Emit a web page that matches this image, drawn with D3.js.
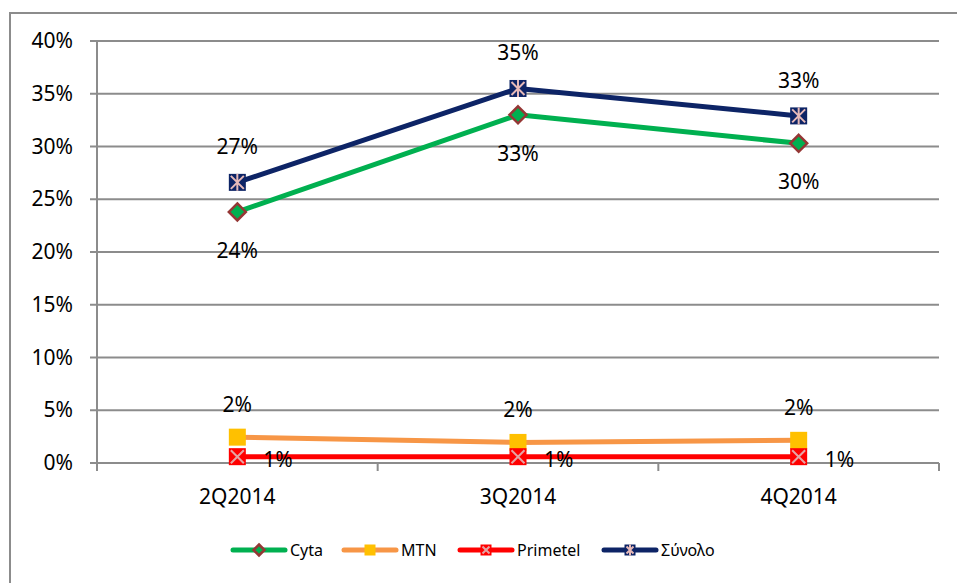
<!DOCTYPE html>
<html>
<head>
<meta charset="utf-8">
<script src="https://cdn.jsdelivr.net/npm/d3@7"></script>
<style>
  body { margin: 0; background: #fff; }
  svg { font-family: "Noto Sans", "Open Sans", sans-serif; }
</style>
</head>
<body>
<svg id="chart"></svg>
<script>
// data
const quarters = ["2Q2014", "3Q2014", "4Q2014"];
const cyta = [23.8, 33.0, 30.3];
const mtn = [2.45, 1.95, 2.15];
const primetel = [0.6, 0.6, 0.6];
const synolo = [26.6, 35.5, 32.9];
const cytaLabels = ["24%", "33%", "30%"];
const mtnLabels = ["2%", "2%", "2%"];
const primetelLabels = ["1%", "1%", "1%"];
const synoloLabels = ["27%", "35%", "33%"];
const yTicks = [0, 5, 10, 15, 20, 25, 30, 35, 40];

let width = 957;
let height = 583;
let plot = { left: 97, right: 939, top: 41, bottom: 463 };

let svg = d3.select('#chart')
    .attr('width', width)
    .attr('height', height);

// outer chart border
svg.append('path')
    .attr('d', `M10,${height} V13 H${width}`)
    .attr('fill', 'none')
    .attr('stroke', '#8c8c8c')
    .attr('stroke-width', 2);

let xScale = d3.scaleBand()
    .domain(quarters)
    .range([plot.left, plot.right]);
let yScale = d3.scaleLinear()
    .domain([0, 40])
    .range([plot.bottom, plot.top]);

let xPos = (i) => xScale(quarters[i]) + xScale.bandwidth() / 2;

// grid
svg.append('g')
    .selectAll('line')
    .data(yTicks)
    .join('line')
    .attr('x1', plot.left - 7)
    .attr('x2', plot.right)
    .attr('y1', d => yScale(d))
    .attr('y2', d => yScale(d))
    .attr('stroke', '#8c8c8c')
    .attr('stroke-width', 2);

// y axis line
svg.append('line')
    .attr('x1', plot.left).attr('x2', plot.left)
    .attr('y1', plot.top).attr('y2', plot.bottom)
    .attr('stroke', '#8c8c8c').attr('stroke-width', 2);

// x axis tick marks
let xBounds = quarters.map(q => xScale(q)).concat([plot.right]);
svg.append('g')
    .selectAll('line')
    .data(xBounds)
    .join('line')
    .attr('x1', d => d).attr('x2', d => d)
    .attr('y1', plot.bottom).attr('y2', plot.bottom + 8)
    .attr('stroke', '#8c8c8c').attr('stroke-width', 2);

// y labels
svg.append('g')
    .selectAll('text')
    .data(yTicks)
    .join('text')
    .attr('x', 73)
    .attr('y', d => yScale(d) + 7)
    .attr('text-anchor', 'end')
    .attr('font-size', 21)
    .text(d => d + '%');

// x labels
svg.append('g')
    .selectAll('text')
    .data(quarters)
    .join('text')
    .attr('x', d => xScale(d) + xScale.bandwidth() / 2)
    .attr('y', 504)
    .attr('text-anchor', 'middle')
    .attr('font-size', 21)
    .text(d => d);

function addLine(values, color) {
    let line = d3.line()
        .x((d, i) => xPos(i))
        .y(d => yScale(d));
    svg.append('path')
        .datum(values)
        .attr('d', line)
        .attr('fill', 'none')
        .attr('stroke', color)
        .attr('stroke-width', 5)
        .attr('stroke-linejoin', 'round');
}

function marker(g, type, x, y, s) {
    if (type === 'diamond') {
        g.append('path')
            .attr('d', `M${x},${y - s} L${x + s},${y} L${x},${y + s} L${x - s},${y} Z`)
            .attr('fill', '#00b050').attr('stroke', '#953735').attr('stroke-width', 2.5);
    } else if (type === 'square') {
        g.append('rect')
            .attr('x', x - s).attr('y', y - s).attr('width', 2 * s).attr('height', 2 * s)
            .attr('fill', '#ffc000');
    } else if (type === 'xsquare') {
        g.append('rect')
            .attr('x', x - s).attr('y', y - s).attr('width', 2 * s).attr('height', 2 * s)
            .attr('fill', '#ff0000');
        g.append('path')
            .attr('d', `M${x - s + 2},${y - s + 2} L${x + s - 2},${y + s - 2} M${x + s - 2},${y - s + 2} L${x - s + 2},${y + s - 2}`)
            .attr('stroke', '#e6a3a3').attr('stroke-width', 2);
    } else if (type === 'star') {
        g.append('rect')
            .attr('x', x - s).attr('y', y - s).attr('width', 2 * s).attr('height', 2 * s)
            .attr('fill', '#0d2466');
        g.append('path')
            .attr('d', `M${x - s + 2},${y - s + 2} L${x + s - 2},${y + s - 2} M${x + s - 2},${y - s + 2} L${x - s + 2},${y + s - 2} M${x},${y - s} V${y + s}`)
            .attr('stroke', '#e6b9b8').attr('stroke-width', 2);
    }
}

function addMarkers(values, type) {
    let g = svg.append('g');
    values.forEach((v, i) => marker(g, type, xPos(i), yScale(v), 8.5));
}

function addLabels(values, labels, dx, dy, anchor) {
    svg.append('g')
        .selectAll('text')
        .data(values)
        .join('text')
        .attr('x', (d, i) => xPos(i) + dx)
        .attr('y', d => yScale(d) + dy)
        .attr('text-anchor', anchor)
        .attr('font-size', 21)
        .text((d, i) => labels[i]);
}

addLine(cyta, '#00b050');
addLine(mtn, '#f79646');
addLine(primetel, '#ff0000');
addLine(synolo, '#0d2466');

addMarkers(cyta, 'diamond');
addMarkers(mtn, 'square');
addMarkers(primetel, 'xsquare');
addMarkers(synolo, 'star');

addLabels(synolo, synoloLabels, 0, -28, 'middle');
addLabels(cyta, cytaLabels, 0, 46, 'middle');
addLabels(mtn, mtnLabels, 0, -25, 'middle');
addLabels(primetel, primetelLabels, 26, 10, 'start');

// legend
const legendItems = [
    { name: "Cyta", color: '#00b050', type: 'diamond', x: 233 },
    { name: "MTN", color: '#f79646', type: 'square', x: 344 },
    { name: "Primetel", color: '#ff0000', type: 'xsquare', x: 460 },
    { name: "Σύνολο", color: '#0d2466', type: 'star', x: 604 }
];
let lg = svg.append('g');
legendItems.forEach(item => {
    let y = 550;
    lg.append('line')
        .attr('x1', item.x).attr('x2', item.x + 52)
        .attr('y1', y).attr('y2', y)
        .attr('stroke', item.color).attr('stroke-width', 5)
        .attr('stroke-linecap', 'round');
    marker(lg, item.type, item.x + 26, y, 5.5);
    lg.append('text')
        .attr('x', item.x + 57)
        .attr('y', y + 6)
        .attr('font-size', 16)
        .text(item.name);
});
</script>
</body>
</html>
